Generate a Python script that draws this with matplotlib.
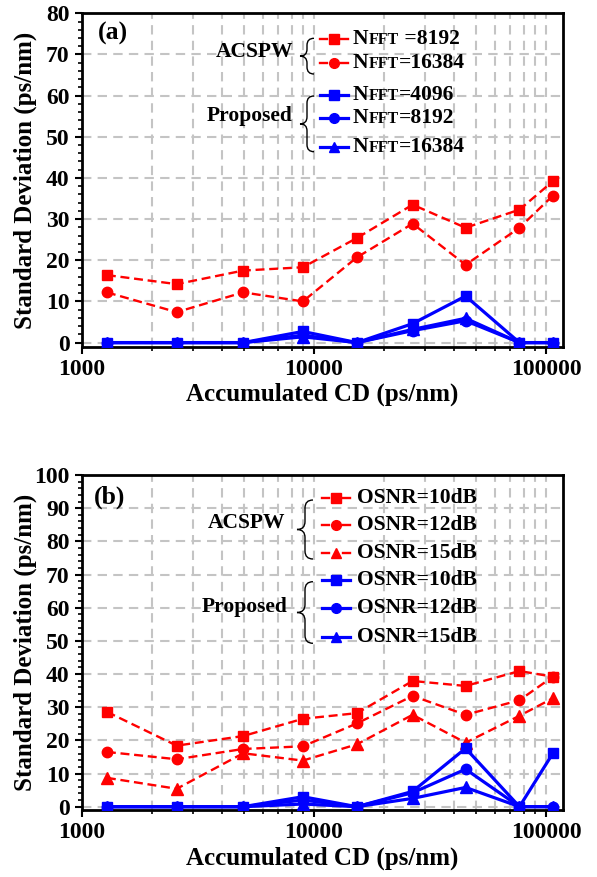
import matplotlib
matplotlib.use('Agg')
import matplotlib.pyplot as plt
from matplotlib.path import Path
from matplotlib.patches import PathPatch
from matplotlib.offsetbox import TextArea, HPacker, AnnotationBbox
from matplotlib.ticker import LogLocator, MultipleLocator, NullFormatter, FixedLocator, FixedFormatter

plt.rcParams['font.family'] = ['Liberation Serif', 'DejaVu Serif']
plt.rcParams['font.weight'] = 'bold'
plt.rcParams['axes.labelweight'] = 'bold'

# ---------------- data ----------------
cd = [1280, 2560, 4950, 8950, 15300, 26600, 45000, 76800, 107000]

a_acspw_8192 = [16.4, 14.2, 17.5, 18.3, 25.4, 33.5, 27.9, 32.3, 39.2]
a_acspw_16384 = [12.2, 7.4, 12.2, 10.0, 20.7, 28.9, 18.9, 27.9, 35.7]
a_prop_4096 = [0, 0, 0, 2.7, 0, 4.6, 11.3, 0, 0]
a_prop_8192 = [0, 0, 0, 1.8, 0, 2.9, 5.3, 0, 0]
a_prop_16384 = [0, 0, 0, 1.4, 0, 3.2, 5.9, 0, 0]

b_acspw_10 = [28.6, 18.4, 21.3, 26.5, 28.2, 37.9, 36.4, 40.9, 39.2]
b_acspw_12 = [16.5, 14.3, 17.4, 18.2, 25.1, 33.4, 27.7, 32.1, 39.2]
b_acspw_15 = [8.7, 5.4, 16.1, 13.9, 18.8, 27.7, 19.3, 27.4, 32.7]
b_prop_10 = [0, 0, 0, 3.0, 0, 4.6, 17.6, 0, 16.1]
b_prop_12 = [0, 0, 0, 2.0, 0, 4.2, 11.3, 0, 0]
b_prop_15 = [0, 0, 0, 0.8, 0, 2.5, 5.8, 0, 0]

a_legend_vals = ['=8192', '=16384', '=4096', '=8192', '=16384']
b_legend_vals = ['OSNR=10dB', 'OSNR=12dB', 'OSNR=15dB', 'OSNR=10dB', 'OSNR=12dB', 'OSNR=15dB']

xticks = [1000, 10000, 100000]
xticklabels = ['1000', '10000', '100000']

RED = '#ff0000'
BLUE = '#0000ff'
GRID = '#c4c4c4'

W, H = 597, 877
fig = plt.figure(figsize=(W / 100, H / 100), dpi=100)

L, R = 82, 563
panels = {
    'a': dict(top=13.3, bot=346.7, ymax=80),
    'b': dict(top=475.0, bot=810.0, ymax=100),
}

def make_ax(p):
    ax = fig.add_axes([L / W, 1 - p['bot'] / H, (R - L) / W, (p['bot'] - p['top']) / H])
    ax.set_xscale('log')
    ax.set_xlim(1000, 118300)
    ax.set_ylim(-1, p['ymax'])
    ax.xaxis.set_major_locator(FixedLocator(xticks))
    ax.xaxis.set_major_formatter(FixedFormatter(xticklabels))
    ax.xaxis.set_minor_locator(LogLocator(base=10, subs=range(2, 10)))
    ax.xaxis.set_minor_formatter(NullFormatter())
    ax.yaxis.set_major_locator(MultipleLocator(10))
    ax.yaxis.set_minor_locator(MultipleLocator(2))
    ax.tick_params(which='major', direction='out', length=5, width=1.5, labelsize=17, pad=4)
    ax.tick_params(which='minor', direction='out', length=3, width=1.2)
    ax.tick_params(top=False, right=False)
    for s in ax.spines.values():
        s.set_linewidth(2)
    ax.grid(True, which='major', axis='y', color=GRID, ls=(0, (4.5, 3)), lw=1.5)
    ax.grid(True, which='both', axis='x', color=GRID, ls=(0, (4.5, 3)), lw=1.5)
    ax.set_axisbelow(True)
    ax.set_xlabel('Accumulated CD (ps/nm)', fontsize=18, labelpad=2)
    ax.set_ylabel('Standard Deviation (ps/nm)', fontsize=18)
    ax.yaxis.set_label_coords((37 - L) / (R - L), 0.5)
    for lab in ax.get_xticklabels() + ax.get_yticklabels():
        lab.set_fontweight('bold')
    return ax

def conv(p):
    fx = lambda px: (px - L) / (R - L)
    fy = lambda py: (p['bot'] - py) / (p['bot'] - p['top'])
    return fx, fy

def brace(ax, p, x_tip, x_end, y_top, y_bot):
    fx, fy = conv(p)
    xm = (x_tip + x_end) / 2
    ym = (y_top + y_bot) / 2
    r = x_end - xm
    pts = [(x_end, y_top), (xm, y_top), (xm, y_top + r), (xm, ym - r),
           (xm, ym), (x_tip, ym), (xm, ym), (xm, ym + r), (xm, y_bot - r),
           (xm, y_bot), (x_end, y_bot)]
    codes = [Path.MOVETO, Path.CURVE3, Path.CURVE3, Path.LINETO,
             Path.CURVE3, Path.CURVE3, Path.CURVE3, Path.CURVE3, Path.LINETO,
             Path.CURVE3, Path.CURVE3]
    verts = [(fx(x), fy(y)) for x, y in pts]
    ax.add_patch(PathPatch(Path(verts, codes), transform=ax.transAxes, fill=False,
                           lw=1.0, color='black', clip_on=False))

def handle(ax, p, y, x1, x2, color, dashed, marker, ms):
    fx, fy = conv(p)
    xm = (x1 + x2) / 2
    if dashed:
        ax.plot([fx(x1), fx(x1 + 7)], [fy(y), fy(y)], color=color, lw=1.7,
                transform=ax.transAxes, clip_on=False)
        ax.plot([fx(x2 - 7), fx(x2)], [fy(y), fy(y)], color=color, lw=1.7,
                transform=ax.transAxes, clip_on=False)
    else:
        ax.plot([fx(x1), fx(x2)], [fy(y), fy(y)], color=color, lw=2.3,
                transform=ax.transAxes, clip_on=False)
    ax.plot([fx(xm)], [fy(y)], marker=marker, ms=ms, color=color, mec=color,
            transform=ax.transAxes, clip_on=False, ls='none')

dash = (0, (3.8, 2))
MS = {'s': 7.5, 'o': 7.5, '^': 8}
RLW, BLW = 1.7, 2.3

# ---------------- panel (a) ----------------
pa = panels['a']
ax1 = make_ax(pa)
ax1.plot(cd, a_acspw_8192, color=RED, ls=dash, lw=RLW, marker='s', ms=MS['s'], zorder=3)
ax1.plot(cd, a_acspw_16384, color=RED, ls=dash, lw=RLW, marker='o', ms=MS['o'], zorder=3)
ax1.plot(cd, a_prop_4096, color=BLUE, lw=BLW, marker='s', ms=MS['s'], zorder=4)
ax1.plot(cd, a_prop_8192, color=BLUE, lw=BLW, marker='o', ms=MS['o'], zorder=4)
ax1.plot(cd, a_prop_16384, color=BLUE, lw=BLW, marker='^', ms=MS['^'], zorder=4)

fx, fy = conv(pa)
ax1.text(fx(98), fy(33), '(a)', fontsize=18.5, ha='left', va='center', transform=ax1.transAxes)
rows_a = [39.3, 63.3, 95.0, 118.3, 146.7]
styles_a = [(RED, True, 's'), (RED, True, 'o'), (BLUE, False, 's'), (BLUE, False, 'o'), (BLUE, False, '^')]
for i, (y, (c, d, m)) in enumerate(zip(rows_a, styles_a)):
    handle(ax1, pa, y, 320, 348, c, d, m, MS[m] - 0.5)
    val = a_legend_vals[i]
    if i == 0:
        val = ' ' + val
    box = HPacker(children=[TextArea('N', textprops=dict(fontsize=15.5, fontweight='bold')),
                            TextArea('FFT', textprops=dict(fontsize=11.5, fontweight='bold')),
                            TextArea(val, textprops=dict(fontsize=15.5, fontweight='bold'))],
                  align='baseline', pad=0, sep=0)
    ab = AnnotationBbox(box, (fx(353), fy(y)), xycoords='axes fraction', box_alignment=(0, 0.5),
                        frameon=False, pad=0, annotation_clip=False)
    ax1.add_artist(ab)
ax1.text(fx(293), fy(51.7), 'ACSPW', fontsize=15.5, ha='right', va='center', transform=ax1.transAxes)
ax1.text(fx(293), fy(115.5), 'Proposed', fontsize=15.5, ha='right', va='center', transform=ax1.transAxes)
brace(ax1, pa, 300, 314, 38.3, 74)
brace(ax1, pa, 300, 314, 96, 151.7)

# ---------------- panel (b) ----------------
pb = panels['b']
ax2 = make_ax(pb)
ax2.plot(cd, b_acspw_10, color=RED, ls=dash, lw=RLW, marker='s', ms=MS['s'], zorder=3)
ax2.plot(cd, b_acspw_12, color=RED, ls=dash, lw=RLW, marker='o', ms=MS['o'], zorder=3)
ax2.plot(cd, b_acspw_15, color=RED, ls=dash, lw=RLW, marker='^', ms=MS['^'], zorder=3)
ax2.plot(cd, b_prop_10, color=BLUE, lw=BLW, marker='s', ms=MS['s'], zorder=4)
ax2.plot(cd, b_prop_12, color=BLUE, lw=BLW, marker='o', ms=MS['o'], zorder=4)
ax2.plot(cd, b_prop_15, color=BLUE, lw=BLW, marker='^', ms=MS['^'], zorder=4)

fx, fy = conv(pb)
ax2.text(fx(94), fy(497), '(b)', fontsize=18.5, ha='left', va='center', transform=ax2.transAxes)
rows_b = [498.3, 525.0, 553.3, 580.0, 608.3, 636.7]
styles_b = [(RED, True, 's'), (RED, True, 'o'), (RED, True, '^'),
            (BLUE, False, 's'), (BLUE, False, 'o'), (BLUE, False, '^')]
for i, (y, (c, d, m)) in enumerate(zip(rows_b, styles_b)):
    handle(ax2, pb, y, 322, 350, c, d, m, MS[m] - 0.5)
    ax2.text(fx(356.7), fy(y), b_legend_vals[i], fontsize=15.5, ha='left', va='center',
             transform=ax2.transAxes)
ax2.text(fx(285), fy(523.3), 'ACSPW', fontsize=15.5, ha='right', va='center', transform=ax2.transAxes)
ax2.text(fx(288), fy(607), 'Proposed', fontsize=15.5, ha='right', va='center', transform=ax2.transAxes)
brace(ax2, pb, 297, 313, 500, 559)
brace(ax2, pb, 297, 313, 581.7, 643.3)

fig.savefig('out.png', dpi=100)
